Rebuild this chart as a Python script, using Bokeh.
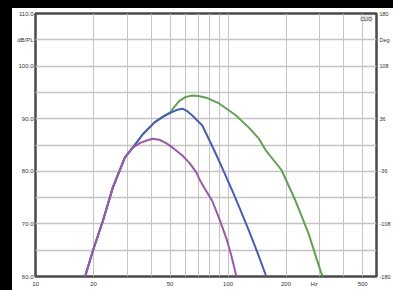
from bokeh.plotting import figure
from bokeh.models import Range1d, LinearAxis, FixedTicker, Label, Div
from bokeh.layouts import column, row
from bokeh.embed import file_html
from bokeh.resources import INLINE

# ---- data ----
purple_f = [18.1, 19.9, 22.4, 25.2, 29.1, 32.0, 35.0, 38.2, 40.5, 44.0, 47.9, 52.0, 57.9, 63.0, 68.4, 70.8, 76.0, 82.7, 90.0, 97.7, 104.0, 110.5]
purple_db = [60.0, 65.0, 70.6, 76.9, 82.6, 84.5, 85.4, 85.9, 86.2, 86.0, 85.3, 84.4, 83.0, 81.6, 79.8, 78.6, 76.6, 74.4, 71.0, 67.4, 64.0, 60.0]

blue_f = [18.1, 19.9, 22.4, 25.2, 29.1, 32.0, 36.0, 41.5, 46.0, 50.8, 54.5, 57.9, 61.0, 65.2, 73.5, 84.7, 95.0, 104.9, 116.0, 128.3, 142.0, 158.0]
blue_db = [60.0, 65.0, 70.6, 76.9, 82.6, 84.5, 87.0, 89.3, 90.4, 91.2, 91.7, 91.9, 91.5, 90.6, 88.7, 84.0, 80.0, 76.4, 72.6, 68.7, 64.6, 60.0]

green_f = [18.1, 19.9, 22.4, 25.2, 29.1, 32.0, 36.0, 41.5, 46.0, 50.0, 53.0, 55.9, 60.0, 65.2, 70.0, 77.0, 89.9, 110.0, 128.3, 144.5, 157.0, 189.8, 224.0, 261.6, 305.0, 312.0]
green_db = [60.0, 65.0, 70.6, 76.9, 82.6, 84.5, 87.0, 89.3, 90.4, 91.2, 92.4, 93.4, 94.1, 94.4, 94.3, 94.0, 92.9, 90.6, 88.3, 86.2, 84.0, 80.2, 74.4, 68.2, 60.6, 60.0]

y_ticks = [60, 70, 80, 90, 100, 105, 110]
y_labels = {60: "60.0", 70: "70.0", 80: "80.0", 90: "90.0", 100: "100.0", 105: "dB/PL", 110: "110.0"}
y_grid = [65, 70, 75, 80, 85, 90, 95, 100, 105]

phase_ticks = [-180, -108, -36, 36, 108, 144, 180]
phase_labels = {-180: "-180", -108: "-108", -36: "-36", 36: "36", 108: "108", 144: "Deg", 180: "180"}

x_ticks = [10, 20, 50, 100, 200, 280, 500]
x_labels = {10: "10", 20: "20", 50: "50", 100: "100", 200: "200", 280: "Hz", 500: "500"}
x_grid = [20, 30, 40, 50, 60, 70, 80, 90, 100, 200, 300, 400, 500]

fig = figure(width=381, height=282, x_axis_type="log",
             x_range=Range1d(10, 590), y_range=Range1d(60, 110),
             output_backend="svg", toolbar_location=None,
             min_border_left=23, min_border_right=15, min_border_top=5, min_border_bottom=14)
fig.margin = 0
fig.extra_y_ranges = {"phase": Range1d(-180, 180)}
fig.add_layout(LinearAxis(y_range_name="phase"), "right")

fig.background_fill_color = "white"
fig.border_fill_color = "white"
fig.outline_line_color = "#4a4a4a"
fig.outline_line_width = 2.5

fig.xaxis.ticker = FixedTicker(ticks=x_ticks, minor_ticks=[])
fig.xaxis.major_label_overrides = x_labels
fig.yaxis[0].ticker = FixedTicker(ticks=y_ticks, minor_ticks=[])
fig.yaxis[0].major_label_overrides = y_labels
fig.yaxis[1].ticker = FixedTicker(ticks=phase_ticks, minor_ticks=[])
fig.yaxis[1].major_label_overrides = phase_labels

for ax in fig.xaxis + fig.yaxis:
    ax.axis_line_color = None
    ax.major_tick_line_color = None
    ax.minor_tick_line_color = None
    ax.major_tick_out = 0
    ax.major_tick_in = 0
    ax.minor_tick_out = 0
    ax.minor_tick_in = 0
    ax.major_label_text_font_size = "6px"
    ax.major_label_text_color = "#333333"
    ax.major_label_text_font = "Liberation Sans"
    ax.major_label_standoff = 3
fig.yaxis[0].major_label_standoff = 2
fig.xaxis.major_label_standoff = 4
fig.yaxis[1].major_label_text_font_size = "5.5px"
fig.yaxis[1].major_label_standoff = 3

fig.xgrid.ticker = FixedTicker(ticks=x_grid, minor_ticks=[])
fig.ygrid.ticker = FixedTicker(ticks=y_grid, minor_ticks=[])
fig.xgrid.grid_line_color = "#c4c4c4"
fig.ygrid.grid_line_color = "#c4c4c4"
fig.xgrid.grid_line_width = 1
fig.ygrid.grid_line_width = 1.3

fig.line(green_f, green_db, line_color="#62a055", line_width=2)
fig.line(blue_f, blue_db, line_color="#4c5cb2", line_width=2)
fig.line(purple_f, purple_db, line_color="#9a5aa8", line_width=2)

fig.add_layout(Label(x=560, y=109.6, text="CLIO", text_font_size="5px", text_color="#444444",
                     text_align="right", text_baseline="top", text_font="Liberation Sans",
                     background_fill_color="#dddddd"))

top_bar = Div(width=393, height=8, margin=0, styles={"background-color": "black"})
left_bar = Div(width=12, height=282, margin=0, styles={"background-color": "black"})
p = column(row(left_bar, fig, spacing=0, margin=0), spacing=0, margin=0)
p.children.insert(0, top_bar)

open("out.html", "w").write(file_html(p, INLINE))
